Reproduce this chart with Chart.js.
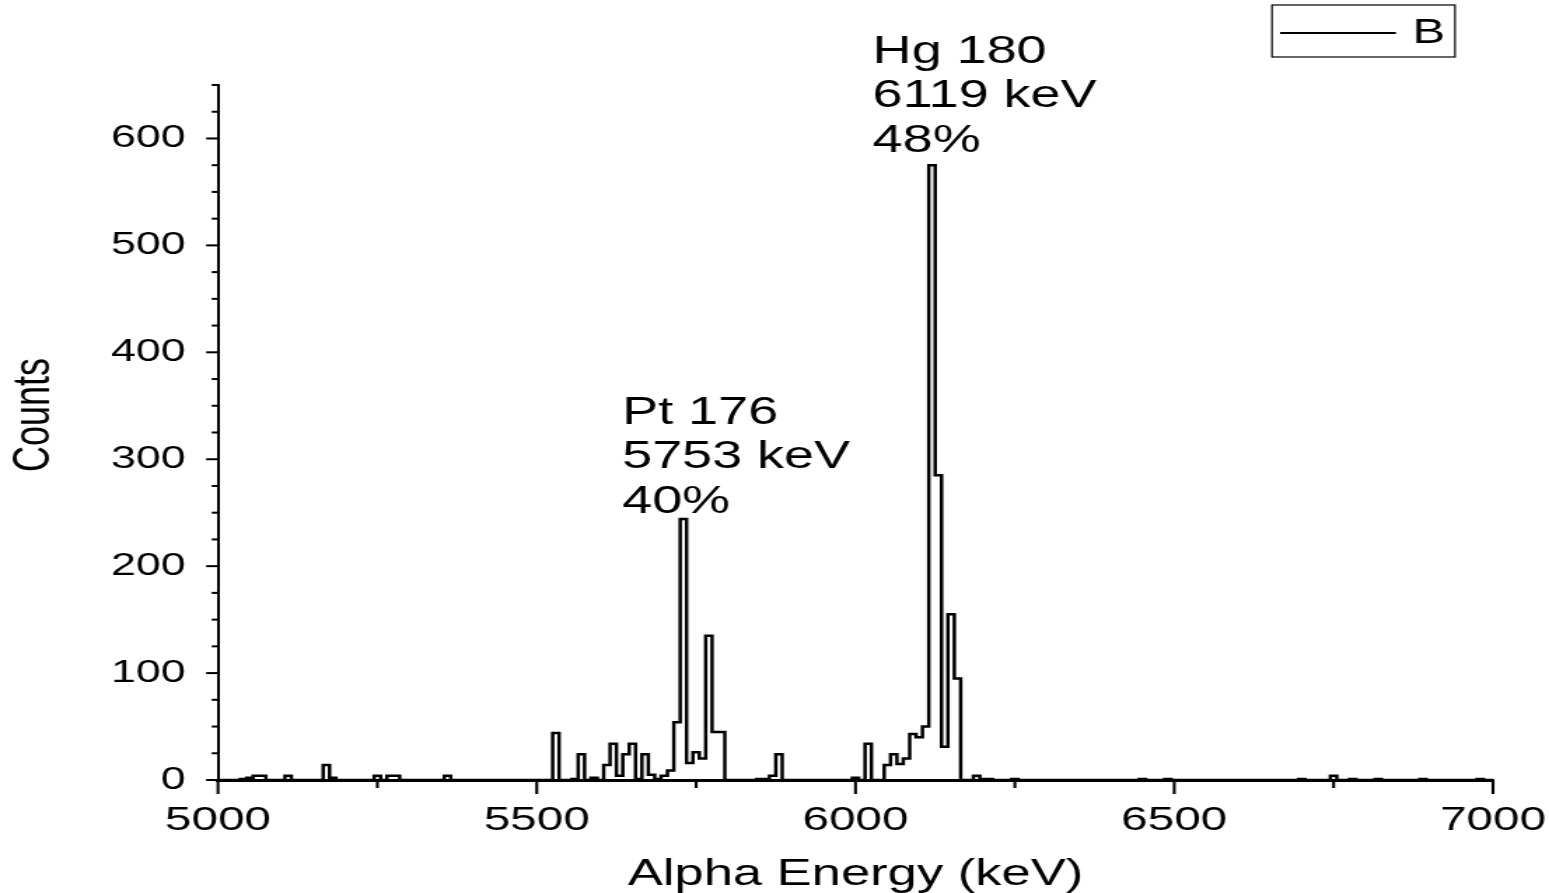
<!DOCTYPE html>
<html>
<head>
<meta charset="utf-8">
<title>Alpha spectrum</title>
<script src="https://cdn.jsdelivr.net/npm/chart.js@4.4.1/dist/chart.umd.min.js"></script>
<style>
    html, body { margin: 0; padding: 0; background: #fff; overflow: hidden; }
    /* 元の図は横に引き伸ばされているので、描画後に横方向だけ拡大する */
    #wrap { width: 1106px; height: 893px; transform: scaleX(1.40054); transform-origin: 0 0; }
</style>
</head>
<body>
<div id="wrap"><canvas id="spectrum"></canvas></div>
<script>
// ビン設定 (10 keV 幅)
const BIN_START = 5000;
const BIN_WIDTH = 10;

// 各ビンのカウント数 (5000〜7000 keV)
const counts = [
    0, 0, 0, 0, 1, 2, 4, 4, 0, 0,
    0, 4, 0, 0, 0, 0, 0, 14, 2, 0,
    0, 0, 0, 0, 0, 4, 0, 4, 4, 0,
    0, 0, 0, 0, 0, 0, 4, 0, 0, 0,
    0, 0, 0, 0, 0, 0, 0, 0, 0, 0,
    0, 0, 0, 44, 0, 0, 1, 24, 0, 2,
    0, 14, 34, 4, 24, 34, 1, 24, 5, 1,
    4, 9, 54, 244, 16, 26, 20, 135, 45, 45,
    0, 0, 0, 0, 0, 1, 1, 4, 24, 0,
    0, 0, 0, 0, 0, 0, 0, 0, 0, 0,
    2, 0, 34, 0, 0, 14, 24, 15, 20, 43,
    40, 50, 575, 285, 31, 155, 95, 0, 0, 4,
    1, 1, 0, 0, 0, 1, 0, 0, 0, 0,
    0, 0, 0, 0, 0, 0, 0, 0, 0, 0,
    0, 0, 0, 0, 0, 1, 0, 0, 0, 1,
    0, 0, 0, 0, 0, 0, 0, 0, 0, 0,
    0, 0, 0, 0, 0, 0, 0, 0, 0, 0,
    1, 0, 0, 0, 0, 4, 0, 0, 1, 0,
    0, 0, 1, 0, 0, 0, 0, 0, 0, 1,
    0, 0, 0, 0, 0, 0, 0, 0, 1, 0,
    0
];

// 軸の範囲と目盛り
const X_MIN = 5000, X_MAX = 7000, X_MAJOR = 500, X_MINOR = 250;
const Y_MIN = 0, Y_MAX = 650, Y_MAJOR = 100, Y_MINOR = 25;

const seriesName = 'B';
const xTitle = 'Alpha Energy (keV)';
const yTitle = 'Counts';

// ピークの注釈 (左端のエネルギーと1行目のベースラインのカウント)
const peakLabels = [
    { lines: ['Pt 176', '5753 keV', '40%'], energy: 5634, count: 333 },
    { lines: ['Hg 180', '6119 keV', '48%'], energy: 6027, count: 671 }
];

const FONT = '"Liberation Sans", Arial, sans-serif';

const points = counts.map((c, i) => ({ x: BIN_START + i * BIN_WIDTH, y: c }));

// 目盛り線・軸タイトル・注釈・凡例を描くプラグイン
const decorations = {
    id: 'decorations',
    afterDraw(chart) {
        const { ctx, scales: { x, y } } = chart;
        ctx.save();
        ctx.strokeStyle = '#000';
        ctx.fillStyle = '#000';

        // x軸の目盛り (外向き)
        ctx.lineWidth = 2.1;
        for (let v = X_MIN; v <= X_MAX; v += X_MINOR) {
            const px = x.getPixelForValue(v);
            const len = v % X_MAJOR === 0 ? 14 : 8;
            ctx.beginPath();
            ctx.moveTo(px, y.bottom);
            ctx.lineTo(px, y.bottom + len);
            ctx.stroke();
        }

        // y軸の目盛り (外向き)
        ctx.lineWidth = 2;
        for (let v = Y_MIN; v <= Y_MAX; v += Y_MINOR) {
            const py = y.getPixelForValue(v);
            const len = v % Y_MAJOR === 0 ? 8.5 : 4.5;
            ctx.beginPath();
            ctx.moveTo(x.left, py);
            ctx.lineTo(x.left - len, py);
            ctx.stroke();
        }

        // y軸タイトル
        ctx.save();
        ctx.translate(25, 415);
        ctx.rotate(-Math.PI / 2);
        ctx.font = '36px ' + FONT;
        ctx.textAlign = 'center';
        ctx.textBaseline = 'middle';
        ctx.fillText(yTitle, 0, 0);
        ctx.restore();

        // ピークの注釈
        ctx.font = '38.5px ' + FONT;
        ctx.textAlign = 'left';
        ctx.textBaseline = 'alphabetic';
        peakLabels.forEach(p => {
            const px = x.getPixelForValue(p.energy);
            const py = y.getPixelForValue(p.count);
            p.lines.forEach((line, i) => {
                ctx.fillText(line, px, py + i * 44.5);
            });
        });

        // 凡例
        ctx.lineWidth = 1.2;
        ctx.strokeRect(908.2, 5, 130.7, 52);
        ctx.lineWidth = 2;
        ctx.beginPath();
        ctx.moveTo(914, 33);
        ctx.lineTo(996.7, 33);
        ctx.stroke();
        ctx.font = '35px ' + FONT;
        ctx.textBaseline = 'middle';
        ctx.fillText(seriesName, 1008.5, 33);

        ctx.restore();
    }
};

new Chart(document.getElementById('spectrum'), {
    type: 'line',
    data: {
        datasets: [{
            label: seriesName,
            data: points,
            stepped: 'middle',
            borderColor: '#000',
            borderWidth: 2.5,
            borderJoinStyle: 'miter',
            pointRadius: 0,
            fill: false
        }]
    },
    options: {
        responsive: true,
        maintainAspectRatio: false,
        animation: false,
        layout: {
            padding: { left: 0, right: 40, top: 85, bottom: 0 }
        },
        plugins: {
            legend: { display: false },
            tooltip: { enabled: false }
        },
        scales: {
            x: {
                type: 'linear',
                min: X_MIN,
                max: X_MAX,
                afterFit: scale => {
                    scale.height = 113;
                    scale.paddingLeft = 0;
                    scale.paddingRight = 0;
                },
                border: { display: true, color: '#000', width: 3 },
                grid: { display: true, drawOnChartArea: false, drawTicks: false },
                ticks: {
                    stepSize: X_MINOR,
                    autoSkip: false,
                    maxRotation: 0,
                    padding: 20,
                    color: '#000',
                    font: { family: FONT, size: 34 },
                    callback: v => (v % X_MAJOR === 0 ? String(v) : '')
                },
                title: {
                    display: true,
                    text: xTitle,
                    color: '#000',
                    font: { family: FONT, size: 37.5, lineHeight: 1 },
                    padding: { top: 2, bottom: 0 }
                }
            },
            y: {
                type: 'linear',
                min: Y_MIN,
                max: Y_MAX,
                afterFit: scale => { scale.width = 155.65; },
                border: { display: true, color: '#000', width: 2 },
                grid: { display: true, drawOnChartArea: false, drawTicks: false },
                ticks: {
                    stepSize: Y_MINOR,
                    autoSkip: false,
                    padding: 23,
                    color: '#000',
                    font: { family: FONT, size: 32 },
                    callback: v => (v % Y_MAJOR === 0 ? String(v) : '')
                },
                title: { display: false }
            }
        }
    },
    plugins: [decorations]
});
</script>
</body>
</html>
